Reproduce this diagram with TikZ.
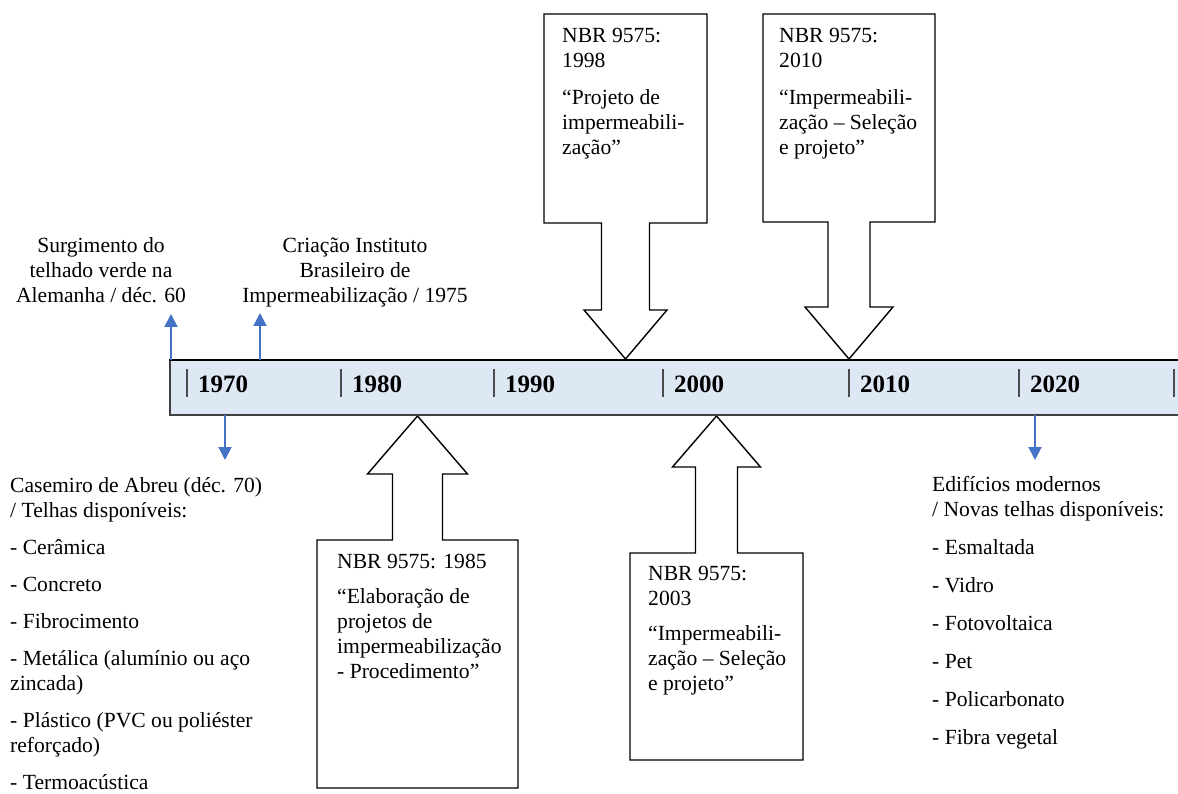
\documentclass[tikz,border=0pt]{standalone}
\usepackage{fontspec}
\setmainfont{Liberation Serif}
\usetikzlibrary{arrows.meta}
\definecolor{barfill}{HTML}{DEE8F4}
\definecolor{evblue}{HTML}{4472C4}
\tikzset{
    txt/.style={font=\fontsize{21.6}{25}\selectfont, inner sep=0pt, align=left, anchor=north west},
    evtxt/.style={font=\fontsize{21.6}{25}\selectfont, inner sep=0pt, align=center, anchor=north},
    year/.style={font=\fontsize{25}{25}\selectfont\bfseries, inner sep=0pt, anchor=base west},
    tick/.style={line width=1.3pt, black!70},
    callout/.style={draw, fill=white, line width=1.4pt, line join=miter},
    evarrow/.style={evblue, line width=2pt, -{Triangle[length=13pt,width=13pt]}}
}
\begin{document}
\begin{tikzpicture}[x=1pt,y=-1pt]
    \useasboundingbox (0,0) rectangle (1178,794);
    % callouts: centre/box half width/box far edge/box near edge/stem/head/head base/tip
    \foreach \c/\bw/\ya/\yb/\sw/\hw/\yh/\yt in {625.5/81.5/14/223/24/41.5/310/359,849/86/14/222/21/44/307/359,417.5/100.5/788/540/25/50/474/416,716.5/86.5/760/553/21/44/467/416}{
        \draw[callout] (\c-\bw,\ya) -- (\c+\bw,\ya) -- (\c+\bw,\yb) -- (\c+\sw,\yb) -- (\c+\sw,\yh) -- (\c+\hw,\yh) -- (\c,\yt)
            -- (\c-\hw,\yh) -- (\c-\sw,\yh) -- (\c-\sw,\yb) -- (\c-\bw,\yb) -- cycle;
    }
    % timeline bar
    \fill[barfill] (170,360) rectangle (1178,415);
    \draw[line width=1.3pt, black!75] (1178,415) -- (170,415) -- (170,360);
    \draw[line width=2pt] (169,360) -- (1178,360);
    \foreach \x/\yr in {187/1970,341/1980,494/1990,663/2000,849/2010,1019/2020}{
        \draw[tick] (\x,369) -- (\x,397);
        \node[year] (y\yr) at (\x+11,392) {\yr};
    }
    \draw[tick] (1174,369) -- (1174,397);
    % events above and below the bar
    \node[evtxt] (ev60) at (101,237.5) {Surgimento do\\telhado verde na\\Alemanha / déc. 60};
    \node[evtxt] (ibi) at (355,237.5) {Criação Instituto\\Brasileiro de\\Impermeabilização / 1975};
    \node[txt] (casemiro) at (10,477.5) {Casemiro de Abreu (déc. 70)\\/ Telhas disponíveis:\\[12pt]- Cerâmica\\[12pt]- Concreto\\[12pt]- Fibrocimento\\[12pt]- Metálica (alumínio ou aço\\zincada)\\[12pt]- Plástico (PVC ou poliéster\\reforçado)\\[12pt]- Termoacústica};
    \node[txt] (modernos) at (932,475.7) {Edifícios modernos\\/ Novas telhas disponíveis:\\[13pt]- Esmaltada\\[13pt]- Vidro\\[13pt]- Fotovoltaica\\[13pt]- Pet\\[13pt]- Policarbonato\\[13pt]- Fibra vegetal};
    \foreach \n/\x/\ya/\yb in {a60/171/360/314,a75/260/360/313,a70/225/415/460,a20/1035/415/460}{
        \coordinate (\n s) at (\x,\ya);
        \coordinate (\n e) at (\x,\yb);
        \draw[evarrow] (\n s) -- (\n e);
    }
    % NBR 9575 texts
    \node[txt] (nbr98) at (562,27.8) {NBR 9575:\\1998\\[12pt]“Projeto de\\impermeabili-\\zação”};
    \node[txt] (nbr10) at (779,27.8) {NBR 9575:\\2010\\[12pt]“Impermeabili-\\zação – Seleção\\e projeto”};
    \node[txt] (nbr85) at (337,553.8) {NBR 9575: 1985\\[10pt]“Elaboração de\\projetos de\\impermeabilização\\- Procedimento”};
    \node[txt] (nbr03) at (648,565.8) {NBR 9575:\\2003\\[10pt]“Impermeabili-\\zação – Seleção\\e projeto”};
\end{tikzpicture}
\end{document}
